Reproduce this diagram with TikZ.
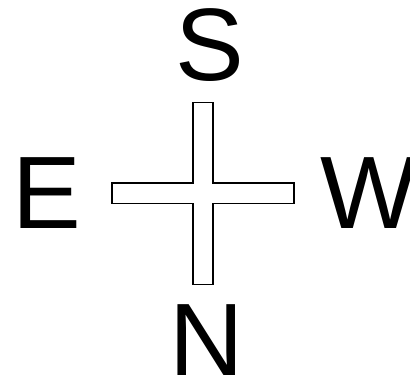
\documentclass[tikz,border=0pt]{standalone}
\usepackage{fontspec}
\setmainfont{Liberation Sans}
\usepackage{tikz}
\usetikzlibrary{positioning, calc}
\tikzset{
	dirnode/.style={
			inner sep=0pt,
			outer sep=0pt,
			anchor=center,
			font=\fontsize{103}{103}\selectfont
		},
	crossline/.style={
			draw=black,
			fill=white,
			line width=1.5pt,
			line join=miter
		}
}

\begin{document}
\begin{tikzpicture}[x=1pt, y=-1pt]
\useasboundingbox (0,0) rectangle (410,379);
\coordinate (c) at (203,193.3);
\def\arm{91}
\def\half{10.2}
\draw[crossline] ($(c)+(-\half,-\arm)$) -- ($(c)+(\half,-\arm)$) -- ($(c)+(\half,-\half)$)
  -- ($(c)+(\arm,-\half)$) -- ($(c)+(\arm,\half)$) -- ($(c)+(\half,\half)$)
  -- ($(c)+(\half,\arm)$) -- ($(c)+(-\half,\arm)$) -- ($(c)+(-\half,\half)$)
  -- ($(c)+(-\arm,\half)$) -- ($(c)+(-\arm,-\half)$) -- ($(c)+(-\half,-\half)$) -- cycle;

\node[dirnode] (s) at (209.5,45.5) {S};
\node[dirnode] (n) at (206.5,339.8) {N};
\node[dirnode] (e) at (46.6,193.3) {E};
\node[dirnode] (w) at (369,193.5) {W};
\end{tikzpicture}
\end{document}
